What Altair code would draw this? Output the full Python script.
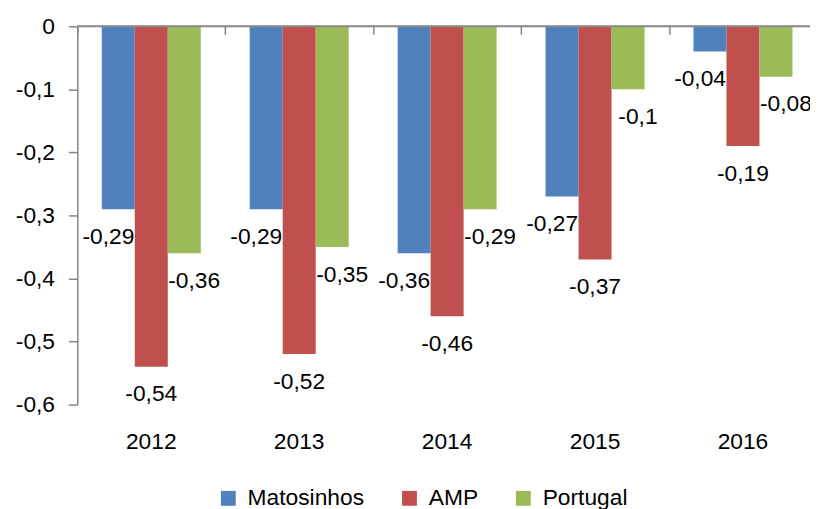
import altair as alt
import pandas as pd

years = ["2012", "2013", "2014", "2015", "2016"]
series = ["Matosinhos", "AMP", "Portugal"]
matosinhos = [-0.29, -0.29, -0.36, -0.27, -0.04]
amp = [-0.54, -0.52, -0.46, -0.37, -0.19]
portugal = [-0.36, -0.35, -0.29, -0.1, -0.08]
colors = ["#4F81BD", "#C0504D", "#9BBB59"]
y_ticks = [0, -0.1, -0.2, -0.3, -0.4, -0.5, -0.6]

rows = []
for name, vals in zip(series, [matosinhos, amp, portugal]):
    for yr, v in zip(years, vals):
        rows.append({"year": yr, "series": name, "value": v,
                     "label": str(v).replace(".", ",")})
df = pd.DataFrame(rows)

FONT = "Liberation Sans"
GRAY = "#868686"
FS = 23

xscale = alt.Scale(domain=years, paddingInner=0, paddingOuter=0)
oscale = alt.Scale(domain=series, paddingInner=0, paddingOuter=0.741)
yscale = alt.Scale(domain=[-0.6, 0], nice=False)

base = alt.Chart(df)

bars = base.mark_bar().encode(
    x=alt.X("year:N", scale=xscale,
            axis=alt.Axis(orient="top", offset=-8, tickSize=8, tickBand="extent",
                          labels=False, domain=False, title=None,
                          tickColor=GRAY, tickWidth=1.5)),
    xOffset=alt.XOffset("series:N", scale=oscale),
    y=alt.Y("value:Q", scale=yscale,
            axis=alt.Axis(values=y_ticks, title=None, grid=False,
                          labelExpr="(datum.value < 0 ? '-' : '') + replace(format(abs(datum.value), '.1~f'), '.', ',')",
                          domainColor=GRAY, domainWidth=1.5, tickColor=GRAY,
                          tickWidth=1.5, tickSize=9, labelPadding=14,
                          labelFontSize=FS, labelFont=FONT, labelColor="#000",
                          labelOverlap=False)),
    color=alt.Color("series:N", scale=alt.Scale(domain=series, range=colors),
                    legend=alt.Legend(orient="none", legendX=141, legendY=465,
                                      direction="horizontal", title=None,
                                      symbolType="square", symbolSize=225,
                                      symbolStrokeWidth=0, labelFontSize=FS,
                                      labelFont=FONT, labelColor="#000",
                                      labelOffset=8, columnPadding=34, padding=0)),
)

zero = alt.Chart(pd.DataFrame({"v": [0]})).mark_rule(color=GRAY, strokeWidth=2).encode(
    y=alt.Y("v:Q", scale=yscale)
)


def text_layer(name, dx, with_axis):
    if with_axis:
        ax = alt.Axis(orient="bottom", domain=False, ticks=False, labelPadding=26,
                      labelFontSize=FS, labelFont=FONT, labelColor="#000",
                      labelAngle=0, title=None)
    else:
        ax = None
    return base.transform_filter(alt.datum.series == name).mark_text(
        baseline="middle", dy=28, dx=dx, fontSize=FS, font=FONT, color="#000"
    ).encode(
        x=alt.X("year:N", scale=xscale, axis=ax),
        xOffset=alt.XOffset("series:N", scale=oscale),
        y=alt.Y("value:Q", scale=yscale),
        text="label:N",
    )


chart = alt.layer(
    bars, zero,
    text_layer("Matosinhos", -10, True),
    text_layer("AMP", 0, False),
    text_layer("Portugal", 10, False),
).resolve_axis(x="independent").properties(
    width=747, height=382,
    autosize=alt.AutoSizeParams(type="none"),
    padding={"left": 70, "top": 16, "right": -7, "bottom": 103},
).configure_view(stroke=None)

chart.save("out.html", embed_options={"renderer": "svg", "actions": False})
